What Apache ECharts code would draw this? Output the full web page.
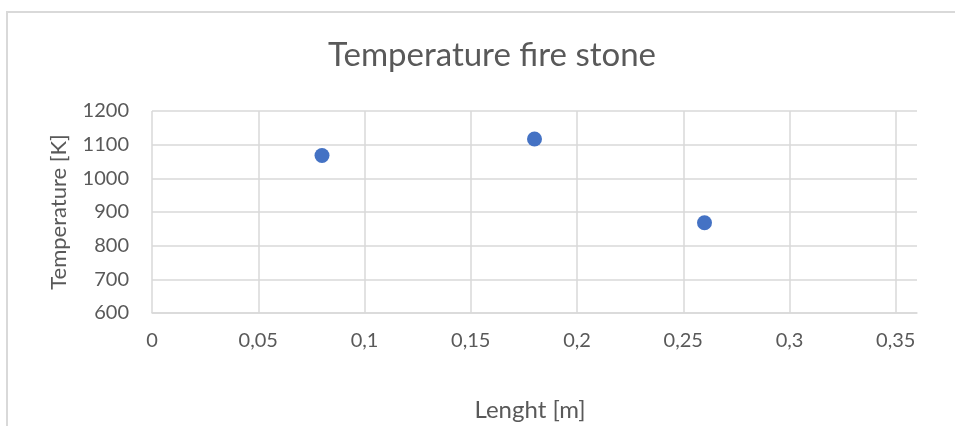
<!DOCTYPE html>
<html>
<head>
<meta charset="utf-8">
<script src="https://cdn.jsdelivr.net/npm/echarts@6/dist/echarts.min.js"></script>
<style>
  html, body { margin: 0; padding: 0; background: #ffffff; }
  #chart { width: 955px; height: 426px; }
</style>
</head>
<body>
<div id="chart"></div>
<script>
// Measured stone temperatures along the length
const lengthsM = [0.08, 0.18, 0.26];
const temperaturesK = [1068, 1117, 868];

const titleText = 'Temperature fire stone';
const xAxisName = 'Lenght [m]';
const yAxisName = 'Temperature [K]';

const points = lengthsM.map((x, i) => [x, temperaturesK[i]]);
const textColor = '#595959';
const gridColor = '#d9d9d9';
const fontFamily = 'Lato, "Open Sans", sans-serif';

// Decimal comma for the length axis
const commaDecimal = v => String(+v.toFixed(2)).replace('.', ',');

const chart = echarts.init(document.getElementById('chart'), null, { renderer: 'canvas' });
chart.setOption({
  backgroundColor: '#ffffff',
  animation: false,
  textStyle: { fontFamily: fontFamily },
  graphic: [{
    type: 'rect',
    shape: { x: 7, y: 12, width: 1200, height: 1200 },
    style: { fill: 'none', stroke: gridColor, lineWidth: 2 },
    silent: true
  }],
  title: {
    text: titleText,
    left: 487,
    top: 34,
    textAlign: 'center',
    textStyle: { color: textColor, fontSize: 33, fontWeight: 'normal', fontFamily: fontFamily }
  },
  grid: { left: 152, right: 38, top: 111, bottom: 113, containLabel: false },
  xAxis: {
    type: 'value',
    min: 0,
    max: 0.36,
    interval: 0.05,
    name: xAxisName,
    nameLocation: 'middle',
    nameGap: 85,
    nameTextStyle: { color: textColor, fontSize: 24, fontFamily: fontFamily, padding: [0, 9, 0, 0] },
    axisLine: { show: true, lineStyle: { color: gridColor, width: 1.5 } },
    axisTick: { show: false },
    axisLabel: {
      color: textColor,
      fontSize: 20,
      margin: 18,
      showMaxLabel: false,
      formatter: commaDecimal
    },
    splitLine: { show: true, showMaxLine: false, lineStyle: { color: gridColor, width: 1.5 } }
  },
  yAxis: {
    type: 'value',
    min: 600,
    max: 1200,
    interval: 100,
    name: yAxisName,
    nameLocation: 'middle',
    nameGap: 82,
    nameRotate: 90,
    nameTextStyle: { color: textColor, fontSize: 22, fontFamily: fontFamily },
    axisLine: { show: false },
    axisTick: { show: false },
    axisLabel: { color: textColor, fontSize: 20, margin: 23, formatter: v => String(v) },
    splitLine: { show: true, lineStyle: { color: gridColor, width: 1.5 } }
  },
  series: [{
    type: 'scatter',
    data: points,
    symbol: 'circle',
    symbolSize: 15,
    itemStyle: { color: '#4472C4', opacity: 1 }
  }]
});
</script>
</body>
</html>
